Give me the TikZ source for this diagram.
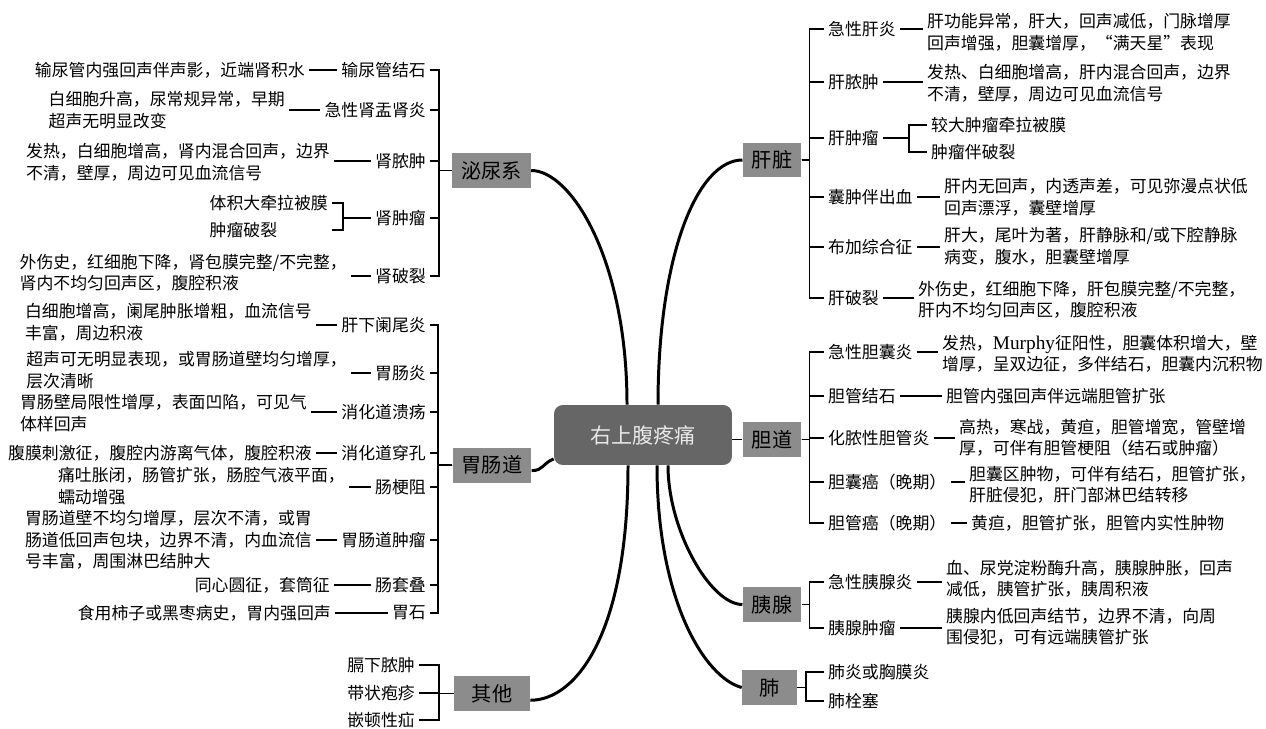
\documentclass[tikz,border=0pt]{standalone}
\usepackage{fontspec}
\setmainfont{Noto Sans CJK SC}
\newfontfamily\murphyfont{Liberation Serif}
\usepackage{xcolor}
\usepackage{tikz}
\usetikzlibrary{calc}
\definecolor{rootgray}{RGB}{102,102,102}
\definecolor{boxgray}{RGB}{140,140,140}
\definecolor{roottext}{RGB}{232,232,232}
\newcommand\leaffont{\fontsize{9.6}{12.2}\selectfont}
\tikzset{
  root/.style={rectangle, fill=rootgray, text=roottext, rounded corners=5pt,
               minimum width=3.56cm, minimum height=1.2cm,
               font=\fontsize{12}{14}\selectfont},
  cat/.style={rectangle, fill=boxgray, minimum width=1.1cm, minimum height=0.7cm,
              inner xsep=0.18cm, font=\fontsize{11.5}{13}\selectfont},
  leaf/.style={inner xsep=2.2pt, inner ysep=1pt, font=\leaffont},
  desc/.style={leaf, align=left},
  br/.style={line width=1pt},
  link/.style={line width=1pt},
  trunk/.style={line width=1.7pt}
}

\begin{document}
\begin{tikzpicture}[x=0.02cm, y=-0.02cm]
  \useasboundingbox (0,0) rectangle (1266,729);

  % centre
  \node[root] (root) at (643,435) {右上腹疼痛};

  % organ boxes
  \node[cat] (uro) at (491.5,170.5) {泌尿系};
  \node[cat] (gi) at (492,465) {胃肠道};
  \node[cat, minimum width=1.52cm] (oth) at (492,693.5) {其他};
  \node[cat] (liv) at (772,160) {肝脏};
  \node[cat] (bil) at (772,439.5) {胆道};
  \node[cat] (pan) at (772,604.5) {胰腺};
  \node[cat] (lung) at (769.5,687.5) {肺};

  % trunks
  \draw[trunk] ($(root.north)+(-16,0)$) .. controls +(0,-145) and +(40,0) .. (uro.east);
  \draw[trunk] ($(root.north)+(15,0)$) .. controls +(0,-150) and +(-45,0) .. (liv.west);
  \draw[trunk] (root.195) .. controls +(-12,5) and +(12,0) .. (gi.-8);
  \draw[trunk] ($(root.south)+(-15,0)$) .. controls +(0,170) and +(45,0) .. (oth.-10);
  \draw[trunk] ($(root.south)+(25,0)$) .. controls +(0,65) and +(-32,0) .. (pan.west);
  \draw[trunk] ($(root.south)+(14,0)$) .. controls +(0,135) and +(-37,-10) .. (lung.west);
  \draw[br] (root.east |- bil.west) -- (bil.west);

  % urinary
  \node[leaf, anchor=east] (u1) at (430,70) {输尿管结石};
  \node[leaf, anchor=east] (u2) at (430,110) {急性肾盂肾炎};
  \node[leaf, anchor=east] (u3) at (430,161) {肾脓肿};
  \node[leaf, anchor=east] (u4) at (430,218) {肾肿瘤};
  \node[leaf, anchor=east] (u5) at (430,276) {肾破裂};
  \foreach \i in {1,...,5}
    \draw[br] (uro.west) -- ++(-13,0) |- (u\i.east);

  \node[desc, anchor=east] (ud1) at (309,70) {输尿管内强回声伴声影，近端肾积水};
  \node[desc, anchor=east] (ud2) at (289,110) {白细胞升高，尿常规异常，早期\\超声无明显改变};
  \node[desc, anchor=east] (ud3) at (334,162.5) {发热，白细胞增高，肾内混合回声，边界\\不清，壁厚，周边可见血流信号};
  \node[desc, anchor=east] (ud5) at (351,273) {外伤史，红细胞下降，肾包膜完整/不完整，\\肾内不均匀回声区，腹腔积液};
  \foreach \i in {1,2,3,5}
    \draw[link] (u\i.west) -- (u\i.west -| ud\i.east);

  \node[leaf, anchor=east] (s1) at (332,203) {体积大牵拉被膜};
  \node[leaf, anchor=west] (s2) at (s1.west |- 0,230) {肿瘤破裂};
  \draw[br] (u4.west) -- ++(-28,0) coordinate (k4) |- (s1.east);
  \draw[br] (k4) |- (s1.east |- s2.west);

  % gastrointestinal
  \node[leaf, anchor=east] (g1) at (430,325) {肝下阑尾炎};
  \node[leaf, anchor=east] (g2) at (430,373) {胃肠炎};
  \node[leaf, anchor=east] (g3) at (430,412) {消化道溃疡};
  \node[leaf, anchor=east] (g4) at (430,453) {消化道穿孔};
  \node[leaf, anchor=east] (g5) at (430,487) {肠梗阻};
  \node[leaf, anchor=east] (g6) at (430,540) {胃肠道肿瘤};
  \node[leaf, anchor=east] (g7) at (430,585) {肠套叠};
  \node[leaf, anchor=east] (g8) at (430,613) {胃石};
  \foreach \i in {1,...,8}
    \draw[br] (gi.west) -- ++(-14,0) |- (g\i.east);

  \node[desc, anchor=east] (gd1) at (316,322.5) {白细胞增高，阑尾肿胀增粗，血流信号\\丰富，周边积液};
  \node[desc, anchor=east] (gd2) at (351,370) {超声可无明显表现，或胃肠道壁均匀增厚，\\层次清晰};
  \node[desc, anchor=east] (gd3) at (311,413) {胃肠壁局限性增厚，表面凹陷，可见气\\体样回声};
  \node[desc, anchor=east] (gd4) at (316,453) {腹膜刺激征，腹腔内游离气体，腹腔积液};
  \node[desc, anchor=east] (gd5) at (349,486) {痛吐胀闭，肠管扩张，肠腔气液平面，\\蠕动增强};
  \node[desc, anchor=east] (gd6) at (316,540) {胃肠道壁不均匀增厚，层次不清，或胃\\肠道低回声包块，边界不清，内血流信\\号丰富，周围淋巴结肿大};
  \node[desc, anchor=east] (gd7) at (334,585) {同心圆征，套筒征};
  \node[desc, anchor=east] (gd8) at (335,613) {食用柿子或黑枣病史，胃内强回声};
  \foreach \i in {1,...,8}
    \draw[link] (g\i.west) -- (g\i.west -| gd\i.east);

  % others
  \node[leaf, anchor=east] (o1) at (419,665) {膈下脓肿};
  \node[leaf, anchor=east] (o2) at (419,693) {带状疱疹};
  \node[leaf, anchor=east] (o3) at (419,720) {嵌顿性疝};
  \foreach \i in {1,2,3}
    \draw[br] (oth.west) -- ++(-15,0) |- (o\i.east);

  % liver
  \node[leaf, anchor=west] (h1) at (824,29) {急性肝炎};
  \node[leaf, anchor=west] (h2) at (824,82) {肝脓肿};
  \node[leaf, anchor=west] (h3) at (824,138) {肝肿瘤};
  \node[leaf, anchor=west] (h4) at (824,197) {囊肿伴出血};
  \node[leaf, anchor=west] (h5) at (824,247) {布加综合征};
  \node[leaf, anchor=west] (h6) at (824,298) {肝破裂};
  \foreach \i in {1,...,6}
    \draw[br] (liv.east) -- ++(8,0) |- (h\i.west);

  \node[desc, anchor=west] (hd1) at (923,32.5) {肝功能异常，肝大，回声减低，门脉增厚\\回声增强，胆囊增厚，“满天星”表现};
  \node[desc, anchor=west] (hd2) at (923,83.5) {发热、白细胞增高，肝内混合回声，边界\\不清，壁厚，周边可见血流信号};
  \node[desc, anchor=west] (hd4) at (940,197.5) {肝内无回声，内透声差，可见弥漫点状低\\回声漂浮，囊壁增厚};
  \node[desc, anchor=west] (hd5) at (940,246.5) {肝大，尾叶为著，肝静脉和/或下腔静脉\\病变，腹水，胆囊壁增厚};
  \node[desc, anchor=west] (hd6) at (914,299.5) {外伤史，红细胞下降，肝包膜完整/不完整，\\肝内不均匀回声区，腹腔积液};
  \foreach \i in {1,2,4,5,6}
    \draw[link] (h\i.east) -- (h\i.east -| hd\i.west);

  \node[leaf, anchor=west] (t1) at (927,125) {较大肿瘤牵拉被膜};
  \node[leaf, anchor=west] (t2) at (927,152) {肿瘤伴破裂};
  \draw[br] (h3.east) -- ++(26,0) coordinate (k3) |- (t1.west);
  \draw[br] (k3) |- (t2.west);

  % biliary
  \node[leaf, anchor=west] (b1) at (824,352) {急性胆囊炎};
  \node[leaf, anchor=west] (b2) at (824,396) {胆管结石};
  \node[leaf, anchor=west] (b3) at (824,438) {化脓性胆管炎};
  \node[leaf, anchor=west] (b4) at (824,482) {胆囊癌（晚期）};
  \node[leaf, anchor=west] (b5) at (824,523) {胆管癌（晚期）};
  \foreach \i in {1,...,5}
    \draw[br] (bil.east) -- ++(8,0) |- (b\i.west);

  \node[desc, anchor=west] (bd1) at (938,354) {发热，{\murphyfont\fontsize{11}{12.2}\selectfont Murphy}征阳性，胆囊体积增大，壁\\增厚，呈双边征，多伴结石，胆囊内沉积物};
  \node[desc, anchor=west] (bd2) at (942,396) {胆管内强回声伴远端胆管扩张};
  \node[desc, anchor=west] (bd3) at (955,437.5) {高热，寒战，黄疸，胆管增宽，管壁增\\厚，可伴有胆管梗阻（结石或肿瘤）};
  \node[desc, anchor=west] (bd4) at (965,485) {胆囊区肿物，可伴有结石，胆管扩张，\\肝脏侵犯，肝门部淋巴结转移};
  \node[desc, anchor=west] (bd5) at (967,523) {黄疸，胆管扩张，胆管内实性肿物};
  \foreach \i in {1,...,5}
    \draw[link] (b\i.east) -- (b\i.east -| bd\i.west);

  % pancreas
  \node[leaf, anchor=west] (p1) at (824,582) {急性胰腺炎};
  \node[leaf, anchor=west] (p2) at (824,628) {胰腺肿瘤};
  \foreach \i in {1,2}
    \draw[br] (pan.east) -- ++(8,0) |- (p\i.west);

  \node[desc, anchor=west] (pd1) at (942,579) {血、尿党淀粉酶升高，胰腺肿胀，回声\\减低，胰管扩张，胰周积液};
  \node[desc, anchor=west] (pd2) at (942,627) {胰腺内低回声结节，边界不清，向周\\围侵犯，可有远端胰管扩张};
  \foreach \i in {1,2}
    \draw[link] (p\i.east) -- (p\i.east -| pd\i.west);

  % lung
  \node[leaf, anchor=west] (l1) at (824,672) {肺炎或胸膜炎};
  \node[leaf, anchor=west] (l2) at (824,701) {肺栓塞};
  \foreach \i in {1,2}
    \draw[br] (lung.east) -- ++(9,0) |- (l\i.west);

\end{tikzpicture}
\end{document}
